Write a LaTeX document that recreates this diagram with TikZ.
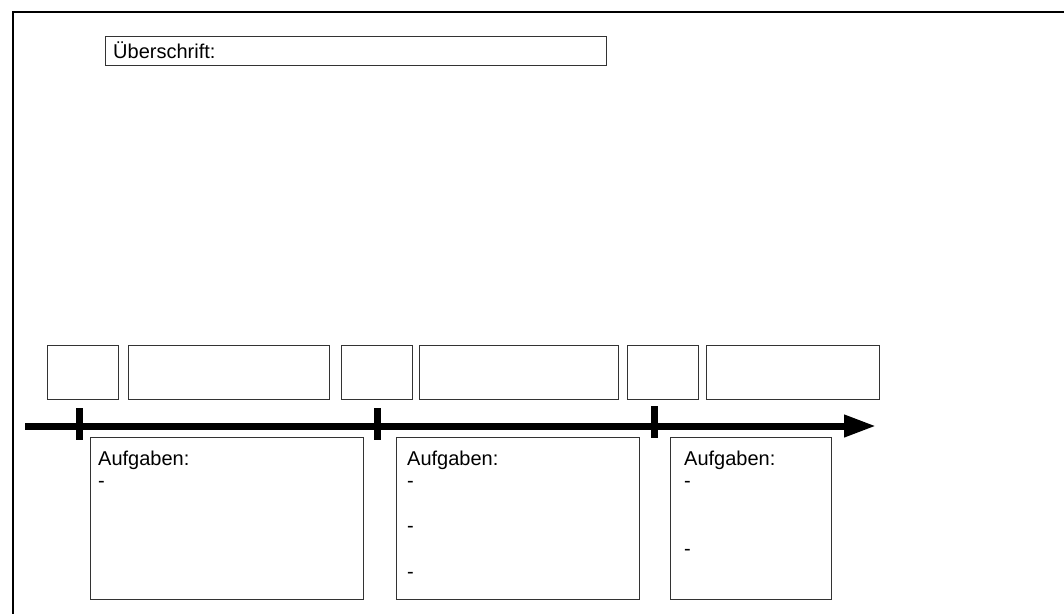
\documentclass[tikz,border=0pt]{standalone}
\usepackage{fontspec}
\setmainfont{Liberation Sans}
\usetikzlibrary{arrows.meta}
\tikzset{
  box/.style={draw=black!80, line width=1.2pt, inner sep=0pt, anchor=north west},
  lbl/.style={inner sep=0pt, anchor=base west, font=\fontsize{20}{24}\selectfont},
  tick/.style={line width=7pt},
  axis/.style={line width=7pt, -{Triangle[length=32pt,width=21pt]}},
  frame/.style={line width=2pt}
}
\begin{document}
\begin{tikzpicture}[x=1pt,y=-1pt]
\useasboundingbox (0,0) rectangle (1064,613);
% frame
\coordinate (fbl) at (13,614);
\coordinate (ftl) at (13,12);
\coordinate (ftr) at (1065,12);
\draw[frame] (fbl) -- (ftl) -- (ftr);
% title
\node[box, minimum width=501pt, minimum height=29pt] (title) at (105,36) {};
\node[lbl] (titletext) at (113,58) {Überschrift:};
% top row boxes
\node[box, minimum width=71pt, minimum height=54pt] (t1) at (47,345) {};
\node[box, minimum width=201pt, minimum height=54pt] (t2) at (128,345) {};
\node[box, minimum width=71pt, minimum height=54pt] (t3) at (341,345) {};
\node[box, minimum width=199pt, minimum height=54pt] (t4) at (419,345) {};
\node[box, minimum width=71pt, minimum height=54pt] (t5) at (627,345) {};
\node[box, minimum width=173pt, minimum height=54pt] (t6) at (706,345) {};
% axis
\coordinate (as) at (25,426);
\coordinate (ae) at (876,426);
\draw[axis] (as) -- (ae);
% ticks
\coordinate (k1a) at (79,408); \coordinate (k1b) at (79,440);
\coordinate (k2a) at (377,408); \coordinate (k2b) at (377,440);
\coordinate (k3a) at (654,406); \coordinate (k3b) at (654,438);
\draw[tick] (k1a) -- (k1b);
\draw[tick] (k2a) -- (k2b);
\draw[tick] (k3a) -- (k3b);
% bottom boxes
\node[box, minimum width=273pt, minimum height=162pt] (b1) at (90,437) {};
\node[box, minimum width=243pt, minimum height=162pt] (b2) at (396,437) {};
\node[box, minimum width=161pt, minimum height=162pt] (b3) at (670,437) {};
% texts
\node[lbl] (a1) at (98,465) {Aufgaben:};
\node[lbl] (d11) at (98,487) {-};
\node[lbl] (a2) at (407,465) {Aufgaben:};
\node[lbl] (d21) at (407,487) {-};
\node[lbl] (d22) at (407,532) {-};
\node[lbl] (d23) at (407,578) {-};
\node[lbl] (a3) at (684,465) {Aufgaben:};
\node[lbl] (d31) at (684,487) {-};
\node[lbl] (d32) at (684,555) {-};
\end{tikzpicture}
\end{document}
